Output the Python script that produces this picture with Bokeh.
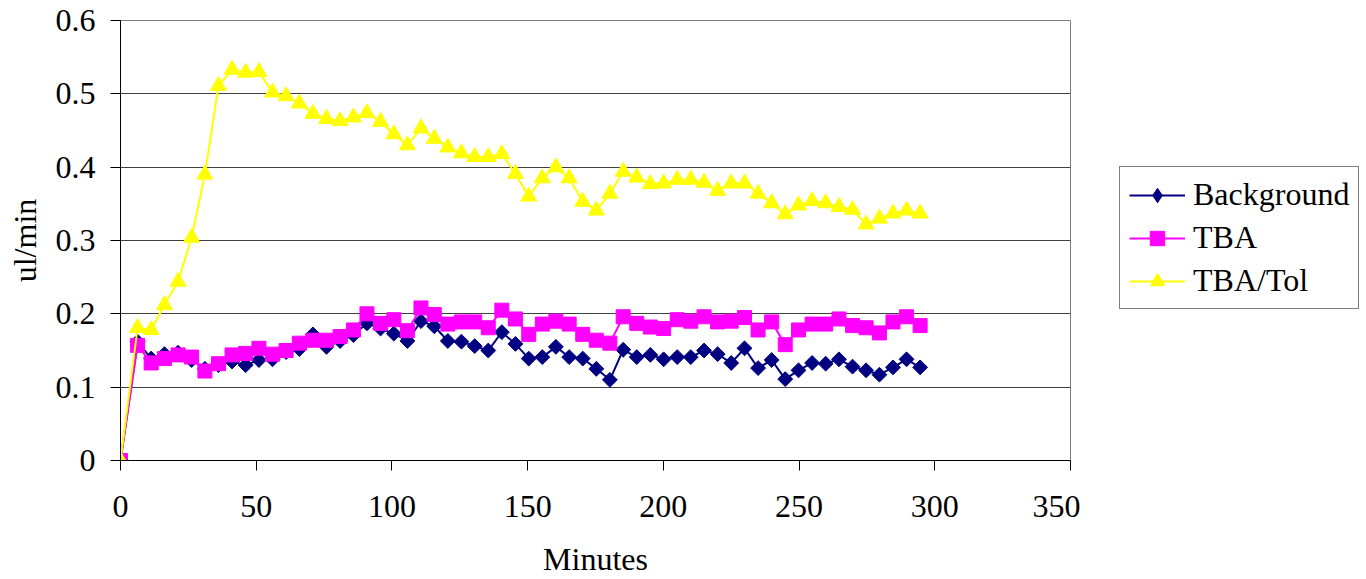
import numpy as np
from bokeh.plotting import figure
from bokeh.layouts import row
from bokeh.models import Legend, LegendItem, FixedTicker
from bokeh.embed import file_html
from bokeh.resources import INLINE

# minutes since start
minutes = [0, 6.3, 11.3, 16.2, 21.2, 26.2, 31.1, 36.1, 41.1, 46.1, 51.0, 56.0,
           61.0, 65.9, 70.9, 75.9, 80.9, 85.8, 90.8, 95.8, 100.7, 105.7, 110.7,
           115.6, 120.6, 125.6, 130.5, 135.5, 140.5, 145.5, 150.4, 155.4, 160.4,
           165.3, 170.3, 175.3, 180.3, 185.2, 190.2, 195.2, 200.1, 205.1, 210.1,
           215.0, 220.0, 225.0, 229.9, 234.9, 239.9, 244.9, 249.8, 254.8, 259.8,
           264.7, 269.7, 274.7, 279.6, 284.6, 289.6, 294.6]

# ul/min
background = [0, 0.162, 0.139, 0.145, 0.147, 0.137, 0.125, 0.130, 0.135, 0.130,
              0.137, 0.138, 0.148, 0.152, 0.172, 0.155, 0.163, 0.171, 0.187, 0.180,
              0.173, 0.163, 0.190, 0.183, 0.163, 0.162, 0.156, 0.150, 0.175, 0.159,
              0.139, 0.141, 0.155, 0.141, 0.139, 0.125, 0.110, 0.151, 0.141, 0.144,
              0.138, 0.141, 0.141, 0.150, 0.145, 0.133, 0.153, 0.126, 0.137, 0.111,
              0.123, 0.133, 0.132, 0.138, 0.128, 0.123, 0.117, 0.127, 0.138, 0.127]

tba = [0, 0.157, 0.133, 0.139, 0.144, 0.141, 0.122, 0.132, 0.144, 0.146,
       0.153, 0.145, 0.150, 0.160, 0.164, 0.164, 0.169, 0.178, 0.200, 0.187,
       0.192, 0.177, 0.208, 0.199, 0.186, 0.189, 0.189, 0.181, 0.205, 0.193,
       0.172, 0.186, 0.190, 0.186, 0.172, 0.164, 0.160, 0.196, 0.187, 0.182,
       0.180, 0.192, 0.190, 0.196, 0.189, 0.190, 0.195, 0.178, 0.189, 0.158,
       0.178, 0.186, 0.186, 0.193, 0.184, 0.181, 0.174, 0.189, 0.196, 0.184]

tba_tol = [0, 0.181, 0.178, 0.212, 0.244, 0.304, 0.390, 0.511, 0.533, 0.529,
           0.530, 0.502, 0.497, 0.487, 0.473, 0.466, 0.463, 0.468, 0.474, 0.462,
           0.445, 0.430, 0.453, 0.439, 0.427, 0.419, 0.414, 0.414, 0.418, 0.391,
           0.360, 0.385, 0.400, 0.385, 0.353, 0.341, 0.364, 0.394, 0.386, 0.377,
           0.378, 0.383, 0.383, 0.379, 0.368, 0.378, 0.378, 0.364, 0.351, 0.336,
           0.348, 0.354, 0.351, 0.346, 0.342, 0.322, 0.330, 0.337, 0.341, 0.337]

x_ticks = [0, 50, 100, 150, 200, 250, 300, 350]
y_ticks = [0, 0.1, 0.2, 0.3, 0.4, 0.5, 0.6]
y_tick_labels = ["0", "0.1", "0.2", "0.3", "0.4", "0.5", "0.6"]

FONT = "Liberation Serif"
FS = "32px"
H = 579

p = figure(width=1080, height=H, x_range=(0, x_ticks[-1]), y_range=(0, y_ticks[-1]),
           output_backend="svg", toolbar_location=None,
           x_axis_label="Minutes", y_axis_label="ul/min",
           min_border_left=120, min_border_right=10,
           min_border_top=20, min_border_bottom=118)

p.background_fill_color = "white"
p.border_fill_color = "white"
p.outline_line_color = "#808080"

p.xaxis.ticker = FixedTicker(ticks=x_ticks)
p.yaxis.ticker = FixedTicker(ticks=y_ticks)
p.yaxis.major_label_overrides = dict(zip(y_ticks, y_tick_labels))

for ax in (p.xaxis, p.yaxis):
    ax.axis_line_color = "black"
    ax.major_tick_line_color = "black"
    ax.major_tick_in = 0
    ax.major_tick_out = 10
    ax.minor_tick_line_color = None
    ax.major_label_text_font = FONT
    ax.major_label_text_font_size = FS
    ax.major_label_text_color = "black"
    ax.axis_label_text_font = FONT
    ax.axis_label_text_font_size = FS
    ax.axis_label_text_font_style = "normal"
    ax.axis_label_text_color = "black"

p.xaxis.major_label_standoff = 25
p.xaxis.axis_label_standoff = 21
p.yaxis.major_label_standoff = 15
p.yaxis.axis_label_standoff = 10

p.xgrid.grid_line_color = None
p.ygrid.grid_line_color = "#404040"
p.ygrid.grid_line_width = 1

series = [
    ("Background", background, "#000080", "square", 10.5, np.pi / 4, "diamond", 17),
    ("TBA", tba, "#FF00FF", "square", 14, 0, "square", 14),
    ("TBA/Tol", tba_tol, "#FFFF00", "triangle", 16, 0, "triangle", 16),
]

# separate panel on the right that only holds the legend
lf = figure(width=286, height=H, x_range=(0, 1), y_range=(0, 1),
            output_backend="svg", toolbar_location=None,
            x_axis_type=None, y_axis_type=None, min_border=0)
lf.outline_line_color = None
lf.grid.visible = False
lf.background_fill_color = "white"
lf.border_fill_color = "white"

items = []
for name, vals, color, marker, size, ang, leg_marker, leg_size in series:
    p.line(minutes, vals, line_color=color, line_width=2)
    p.scatter(minutes, vals, marker=marker, size=size, angle=ang,
              fill_color=color, line_color=color)
    ln = lf.line([np.nan], [np.nan], line_color=color, line_width=2)
    mk = lf.scatter([np.nan], [np.nan], marker=leg_marker, size=leg_size,
                    fill_color=color, line_color=color)
    items.append(LegendItem(label=name, renderers=[ln, mk]))

# the row lines this frame up with the main frame (bottom at y = 461)
legend = Legend(items=items, location=(39, 151))
legend.label_text_font = FONT
legend.label_text_font_size = FS
legend.label_text_color = "black"
legend.glyph_width = 56
legend.glyph_height = 36
legend.label_height = 36
legend.label_standoff = 8
legend.spacing = 6
legend.padding = 9
legend.margin = 0
legend.border_line_color = "black"
legend.border_line_width = 1
legend.background_fill_color = "white"
lf.add_layout(legend, "center")

layout = row(p, lf)

open("out.html", "w").write(file_html(layout, INLINE))
